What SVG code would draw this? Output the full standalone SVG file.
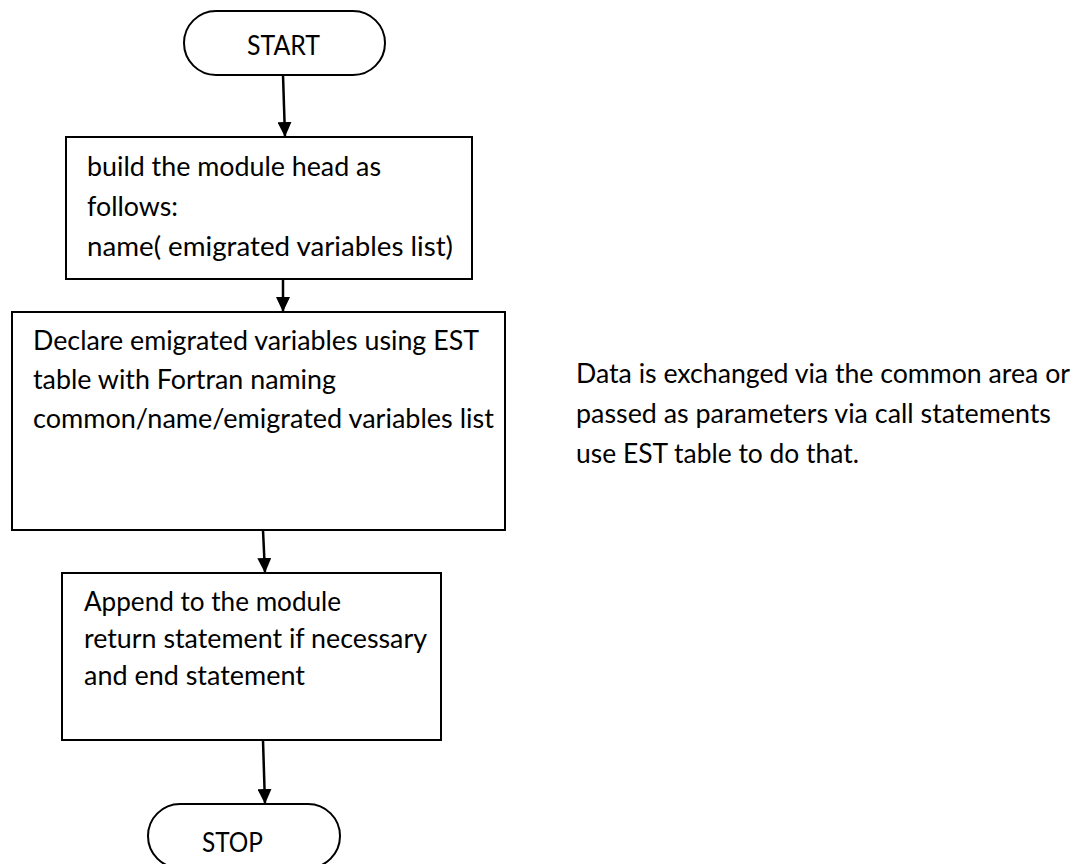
<svg xmlns="http://www.w3.org/2000/svg" width="1083" height="864" viewBox="0 0 1083 864">
  <style>
    .shape { fill: #ffffff; stroke: #000000; stroke-width: 2; }
    .label { font-family: Lato, "Open Sans", "Liberation Sans", sans-serif; font-size: 27px; fill: #000000; }
    .flow { stroke: #000000; stroke-width: 2.5; fill: none; marker-end: url(#arrow); }
  </style>
  <defs>
    <marker id="arrow" viewBox="0 0 15 14" refX="15" refY="7" markerWidth="15" markerHeight="14" markerUnits="userSpaceOnUse" orient="auto">
      <path d="M0,0 L15,7 L0,14 Z" fill="#000000"/>
    </marker>
  </defs>
  <rect width="1083" height="864" fill="#ffffff"/>

  <g id="connectors">
    <line class="flow" x1="283" y1="75" x2="285" y2="137"/>
    <line class="flow" x1="283" y1="279" x2="283" y2="312"/>
    <line class="flow" x1="263" y1="530" x2="265" y2="573"/>
    <line class="flow" x1="263" y1="740" x2="265" y2="804"/>
  </g>

  <g id="start">
    <rect class="shape" x="184" y="11" width="201" height="64" rx="32" ry="32"/>
    <text class="label" x="247" y="55" textLength="73" lengthAdjust="spacingAndGlyphs">START</text>
  </g>

  <g id="build-head">
    <rect class="shape" x="66" y="137" width="406" height="142"/>
    <text class="label" x="87" y="176" textLength="294" lengthAdjust="spacingAndGlyphs">build the module head as</text>
    <text class="label" x="87" y="216" textLength="91" lengthAdjust="spacingAndGlyphs">follows:</text>
    <text class="label" x="87" y="256" textLength="366" lengthAdjust="spacingAndGlyphs">name( emigrated variables  list)</text>
  </g>

  <g id="declare">
    <rect class="shape" x="12" y="312" width="493" height="218"/>
    <text class="label" x="33" y="350" textLength="446" lengthAdjust="spacingAndGlyphs">Declare  emigrated variables using EST</text>
    <text class="label" x="33" y="389" textLength="303" lengthAdjust="spacingAndGlyphs">table with Fortran naming</text>
    <text class="label" x="33" y="428" textLength="461" lengthAdjust="spacingAndGlyphs">common/name/emigrated variables list</text>
  </g>

  <g id="note">
    <text class="label" x="576" y="383" textLength="494" lengthAdjust="spacingAndGlyphs">Data is exchanged via the common area or</text>
    <text class="label" x="576" y="423" textLength="475" lengthAdjust="spacingAndGlyphs">passed as parameters via call statements</text>
    <text class="label" x="576" y="463" textLength="283" lengthAdjust="spacingAndGlyphs">use EST table to do that.</text>
  </g>

  <g id="append-end">
    <rect class="shape" x="62" y="573" width="379" height="167"/>
    <text class="label" x="84" y="611" textLength="257" lengthAdjust="spacingAndGlyphs">Append to the module</text>
    <text class="label" x="84" y="648" textLength="343" lengthAdjust="spacingAndGlyphs">return statement if necessary</text>
    <text class="label" x="84" y="685" textLength="221" lengthAdjust="spacingAndGlyphs">and end statement</text>
  </g>

  <g id="stop">
    <rect class="shape" x="148" y="804" width="192" height="64" rx="32" ry="32"/>
    <text class="label" x="202" y="852" textLength="61" lengthAdjust="spacingAndGlyphs">STOP</text>
  </g>
</svg>
